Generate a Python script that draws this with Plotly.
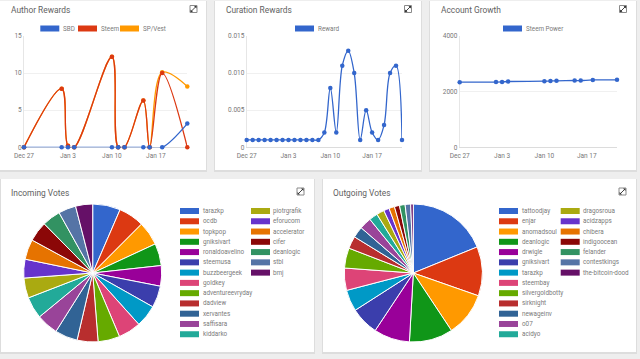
import plotly.graph_objects as go

W, H = 640, 359
FONT = "Roboto"
PALETTE = ["#3366cc", "#dc3912", "#ff9900", "#109618", "#990099", "#3b3eac", "#0099c6",
           "#dd4477", "#66aa00", "#b82e2e", "#316395", "#994499", "#22aa99", "#aaaa11",
           "#6633cc", "#e67300", "#8b0707", "#329262", "#5574a6", "#651067"]

author_dates = ["2017-12-27", "2018-01-02", "2018-01-03", "2018-01-04", "2018-01-10", "2018-01-11",
                "2018-01-12", "2018-01-15", "2018-01-16", "2018-01-18", "2018-01-22"]
sbd = [0, 0, 0, 0, 0, 0, 0, 0, 0, 0, 3.2]
steem = [0, 7.9, 0.2, 0, 12.2, 0, 0, 6.3, 0, 10, 0]
sp_vest = [0, 7.9, 0.2, 0, 12.2, 0, 0, 6.3, 0, 10.1, 8.2]

curation_dates = ["2017-12-27", "2017-12-28", "2017-12-29", "2017-12-30", "2017-12-31", "2018-01-01",
                  "2018-01-02", "2018-01-03", "2018-01-04", "2018-01-05", "2018-01-06", "2018-01-07",
                  "2018-01-08", "2018-01-09", "2018-01-10", "2018-01-11", "2018-01-12", "2018-01-13",
                  "2018-01-14", "2018-01-15", "2018-01-16", "2018-01-17", "2018-01-18", "2018-01-19",
                  "2018-01-20", "2018-01-21", "2018-01-22"]
reward = [0.001, 0.001, 0.001, 0.001, 0.001, 0.001, 0.001, 0.001, 0.001, 0.001, 0.001, 0.001,
          0.001, 0.002, 0.008, 0.002, 0.011, 0.013, 0.010, 0.001, 0.005, 0.002, 0.001, 0.003,
          0.010, 0.011, 0.001]

growth_dates = author_dates
steem_power = [2340, 2345, 2350, 2365, 2375, 2385, 2390, 2400, 2400, 2420, 2425]

tick_dates = ["2017-12-27", "2018-01-03", "2018-01-10", "2018-01-17"]
tick_labels = ["Dec 27", "Jan 3", "Jan 10", "Jan 17"]

incoming_names = ["tarazkp", "ocdb", "topkpop", "gniksivart", "ronaldoavelino", "steemusa",
                  "buzzbeergeek", "goldkey", "adventureevryday", "dadview", "xervantes",
                  "saffisara", "kiddarko", "piotrgrafik", "eforucom", "accelerator", "cifer",
                  "deanlogic", "stbl", "bmj"]
incoming_values = [6.5, 6.0, 5.6, 5.2, 4.8, 5.1, 5.2, 5.3, 5.1, 4.9, 5.3, 5.1, 5.1, 4.7, 4.4,
                   4.7, 4.7, 4.3, 4.1, 4.0]

outgoing_names = ["tattoodjay", "enjar", "anomadsoul", "deanlogic", "drwigle", "gniksivart",
                  "tarazkp", "steembay", "silvergoldbotty", "sirknight", "newageinv", "o07",
                  "acidyo", "dragosroua", "acidzapps", "chibera", "indigoocean", "felander",
                  "contestkings", "the-bitcoin-dood"]
outgoing_values = [18.8, 11.5, 10.3, 10.2, 8.4, 6.6, 5.0, 5.2, 4.7, 2.9, 2.6, 2.8, 2.0, 1.8,
                   1.3, 1.3, 1.2, 1.3, 1.3, 0.6]

fig = go.Figure()
shapes, annotations = [], []


def px(x):
    return x / W


def py(y):
    return 1 - y / H


def rect(x0, y0, x1, y1, color, line=None):
    shapes.append(dict(type="rect", xref="paper", yref="paper", x0=px(x0), x1=px(x1), y0=py(y1), y1=py(y0),
                       fillcolor=color, line=dict(width=1 if line else 0, color=line or color), layer="below"))


def text(x, y, s, size=6.3, color="#777777", anchor="left"):
    annotations.append(dict(xref="paper", yref="paper", x=px(x), y=py(y), text=s, showarrow=False,
                            xanchor=anchor, yanchor="middle", borderpad=0,
                            font=dict(family=FONT, size=size, color=color)))


def icon(x, y):
    shapes.append(dict(type="rect", xref="paper", yref="paper", x0=px(x), x1=px(x + 7), y0=py(y + 7), y1=py(y),
                       fillcolor="rgba(0,0,0,0)", line=dict(width=1, color="#8a8a8a")))
    shapes.append(dict(type="line", xref="paper", yref="paper", x0=px(x + 1), x1=px(x + 6), y0=py(y + 6), y1=py(y + 1),
                       line=dict(width=1, color="#444444")))
    for cx, cy, dx, dy in [(x + 0.5, y + 6.5, 2.5, -2.5), (x + 6.5, y + 0.5, -2.5, 2.5)]:
        shapes.append(dict(type="path", xref="paper", yref="paper",
                           path=f"M {px(cx)} {py(cy)} L {px(cx + dx)} {py(cy)} L {px(cx)} {py(cy + dy)} Z",
                           fillcolor="#333333", line=dict(width=0)))


def card(x0, y0, x1, y1, title, tx, ty, tsize, ix, iy):
    rect(x0 - 1, y0, x1 + 1, y1 + 2, "#dddddd")
    rect(x0, y0, x1, y1, "#ffffff")
    text(tx, ty, title, size=tsize, color="#626262")
    icon(ix, iy)


def line_chart(idx, x0, x1, y0, y1, yrange, tickvals, ticktext, series):
    ax = "" if idx == 1 else str(idx)
    layout = {
        f"xaxis{ax}": dict(domain=[px(x0), px(x1)], anchor=f"y{ax}", type="date",
                           range=["2017-12-27", "2018-01-22"], tickmode="array",
                           tickvals=tick_dates, ticktext=tick_labels, showgrid=False, ticks="",
                           showline=True, linecolor="#dcdcdc", linewidth=1, zeroline=False,
                           layer="below traces", ticklabelstandoff=2,
                           tickfont=dict(family=FONT, size=6.5, color="#777777")),
        f"yaxis{ax}": dict(domain=[py(y1), py(y0)], anchor=f"x{ax}", range=yrange, tickmode="array",
                           tickvals=tickvals, ticktext=ticktext, showgrid=True, gridcolor="#f0f0f0",
                           gridwidth=1, ticks="", showline=True, linecolor="#e6e6e6", linewidth=1,
                           zeroline=False, layer="below traces",
                           tickfont=dict(family=FONT, size=6.5, color="#777777")),
    }
    fig.update_layout(**layout)
    for dates, vals, color in series:
        fig.add_trace(go.Scatter(x=dates, y=vals, mode="lines+markers", xaxis=f"x{ax}", yaxis=f"y{ax}",
                                 line=dict(color=color, width=1.3, shape="spline", smoothing=1.0),
                                 marker=dict(color=color, size=4.5), cliponaxis=False, showlegend=False))


def swatch_legend(items):
    for sx, tx, label, color, y in items:
        rect(sx, y - 3, sx + 19, y + 3, color)
        text(tx, y, label, size=6.3, color="#7a7a7a")


def pie_chart(cx, cy, r, names, values):
    fig.add_trace(go.Pie(labels=names, values=values, sort=False, direction="clockwise", rotation=0,
                         marker=dict(colors=PALETTE, line=dict(color="#ffffff", width=1)),
                         textinfo="none", showlegend=False,
                         domain=dict(x=[px(cx - r), px(cx + r)], y=[py(cy + r), py(cy - r)])))


def pie_legend(names, s1, t1, s2, t2):
    for i, (name, color) in enumerate(zip(names, PALETTE)):
        col2 = i >= 13
        row = i - 13 if col2 else i
        swatch_legend([(s2 if col2 else s1, t2 if col2 else t1, name, color, 211 + row * 10.27)])


TITLE_SIZE = 8.4
card(0, 1, 206, 170, "Author Rewards", 10, 9.7, TITLE_SIZE, 190, 5.5)
card(215, 1, 421, 170, "Curation Rewards", 225, 9.7, TITLE_SIZE, 404.5, 5.5)
card(430, 1, 636, 170, "Account Growth", 440, 9.7, TITLE_SIZE, 619.5, 5.5)
card(1, 179, 314, 352, "Incoming Votes", 10, 192.7, TITLE_SIZE, 297, 188)
card(323, 179, 636, 352, "Outgoing Votes", 332, 192.7, TITLE_SIZE, 619, 188)

line_chart(1, 24, 187.3, 36, 147.3, [0, 15], [0, 5, 10, 15], ["0", "5", "10", "15"],
           [(author_dates, sp_vest, PALETTE[2]), (author_dates, steem, PALETTE[1]), (author_dates, sbd, PALETTE[0])])
line_chart(2, 246.7, 402, 36, 147.3, [0, 0.015], [0, 0.005, 0.01, 0.015], ["0", "0.005", "0.010", "0.015"],
           [(curation_dates, reward, PALETTE[0])])
line_chart(3, 459.7, 617, 36, 147.3, [0, 4000], [0, 2000, 4000], ["0", "2000", "4000"],
           [(growth_dates, steem_power, PALETTE[0])])

swatch_legend([(40.3, 62, "SBD", PALETTE[0], 28.5), (78, 100, "Steem", PALETTE[1], 28.5),
               (120, 142, "SP/Vest", PALETTE[2], 28.5)])
swatch_legend([(295, 317, "Reward", PALETTE[0], 28.5)])
swatch_legend([(503, 525, "Steem Power", PALETTE[0], 28.5)])

pie_chart(92.7, 273, 69, incoming_names, incoming_values)
pie_chart(413.3, 273, 69, outgoing_names, outgoing_values)
pie_legend(incoming_names, 180, 202, 251, 272.3)
pie_legend(outgoing_names, 499, 520.7, 560.7, 582.3)

fig.update_layout(width=W, height=H, autosize=False,
                  margin=dict(l=0, r=0, t=0, b=0, pad=0, autoexpand=False),
                  paper_bgcolor="#eeeeee", plot_bgcolor="rgba(0,0,0,0)", shapes=shapes,
                  annotations=annotations, font=dict(family=FONT), showlegend=False)

fig.write_html("out.html", config=dict(displayModeBar=False),
               post_script="document.body.style.margin='0';document.body.style.overflow='hidden';")
